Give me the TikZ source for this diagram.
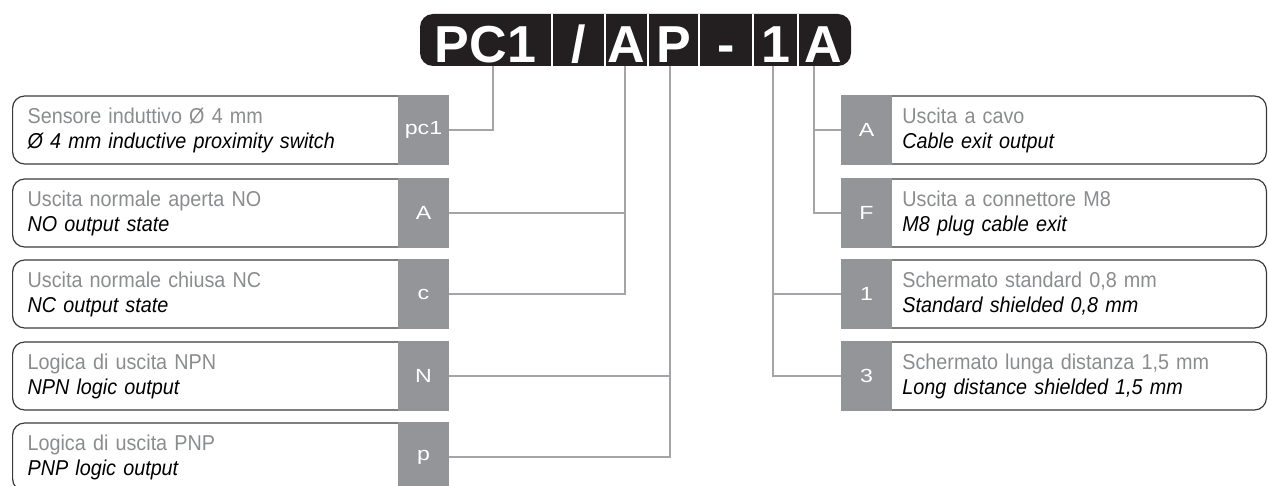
\documentclass[tikz,border=0pt]{standalone}
\usepackage{fontspec}
\setmainfont{Liberation Sans}
\newfontfamily\boxfont[FakeStretch=0.92]{Liberation Sans}
\newfontfamily\tabfont[FakeStretch=1.22]{Liberation Sans}
\usetikzlibrary{calc}
\definecolor{hdrblack}{HTML}{231F20}
\definecolor{tabgray}{HTML}{939598}
\definecolor{itgray}{HTML}{8A8C8E}
\definecolor{leadgray}{HTML}{A3A5A8}
\definecolor{framegray}{HTML}{3A3A3A}
\tikzset{
  lbox/.style={draw=framegray, line width=1.2pt, rounded corners=12pt, minimum height=68pt,
    text width=380pt, inner xsep=15pt, inner ysep=0pt, align=left, anchor=west,
    font=\boxfont\fontsize{21.5}{25}\selectfont},
  rbox/.style={lbox, text width=341pt, inner xsep=23pt, anchor=east},
  tab/.style={fill=tabgray, text=white, minimum width=51pt, minimum height=70pt,
    inner sep=0pt, font=\tabfont\fontsize{19}{19}\selectfont},
  lead/.style={draw=leadgray, line width=2.2pt},
  seg/.style={text=white, anchor=base, inner sep=0pt, font=\bfseries\fontsize{52}{52}\selectfont}
}
\newcommand{\twoline}[2]{\textcolor{itgray}{\rule{0pt}{15pt}#1}\\\textit{#2\rule[-4pt]{0pt}{4pt}}}
\newcommand{\lrow}[5]{ \node[lbox] (b#1) at (12,#2) {\twoline{#4}{#5}}; \node[tab] (t#1) at (423.5,#2) {#3}; }
\newcommand{\rrow}[5]{ \node[rbox] (b#1) at (1267,#2) {\twoline{#4}{#5}}; \node[tab] (t#1) at (866.5,#2) {#3}; }

\begin{document}
\begin{tikzpicture}[x=1pt, y=-1pt]
\useasboundingbox (0,0) rectangle (1268,486);
% code bar
\fill[hdrblack, rounded corners=13pt] (420,14) rectangle (851,66);
\foreach \x in {552,605,648,699,753,798} \draw[white, line width=2pt] (\x,14) -- (\x,66);
\node[seg] (sPC) at (485.5,63) {PC1};
\node[seg] (sSl) at (578.5,63) {/};
\node[seg] (sA) at (626.5,63) {A};
\node[seg] (sP) at (673.5,63) {P};
\node[seg] (sDa) at (726,63) {-};
\node[seg] (sOne) at (775.5,63) {1};
\node[seg] (sEx) at (823,63) {A};
\coordinate (kPC) at (493,66);
\coordinate (kA) at (625,66);
\coordinate (kP) at (670,66);
\coordinate (kOne) at (773,66);
\coordinate (kEx) at (814,66);

% left column
\lrow{PC}{130}{pc1}{Sensore induttivo Ø 4 mm}{Ø 4 mm inductive proximity switch}
\lrow{NO}{213}{A}{Uscita normale aperta NO}{NO output state}
\lrow{NC}{294}{c}{Uscita normale chiusa NC}{NC output state}
\lrow{NPN}{376}{N}{Logica di uscita NPN}{NPN logic output}
\lrow{PNP}{457}{p}{Logica di uscita PNP}{PNP logic output}

% right column
\rrow{Cab}{130}{A}{Uscita a cavo}{Cable exit output}
\rrow{Con}{213}{F}{Uscita a connettore M8}{M8 plug cable exit}
\rrow{Std}{294}{1}{Schermato standard 0,8 mm}{Standard shielded 0,8 mm}
\rrow{Lng}{376}{3}{Schermato lunga distanza 1,5 mm}{Long distance shielded 1,5 mm}

% leaders
\draw[lead] (tPC.east) -| (kPC);
\draw[lead] (tNO.east) -| (kA);
\draw[lead] (tNC.east) -| (kA);
\draw[lead] (tNPN.east) -| (kP);
\draw[lead] (tPNP.east) -| (kP);
\draw[lead] (tCab.west) -| (kEx);
\draw[lead] (tCon.west) -| (kEx);
\draw[lead] (tStd.west) -| (kOne);
\draw[lead] (tLng.west) -| (kOne);
\end{tikzpicture}
\end{document}
